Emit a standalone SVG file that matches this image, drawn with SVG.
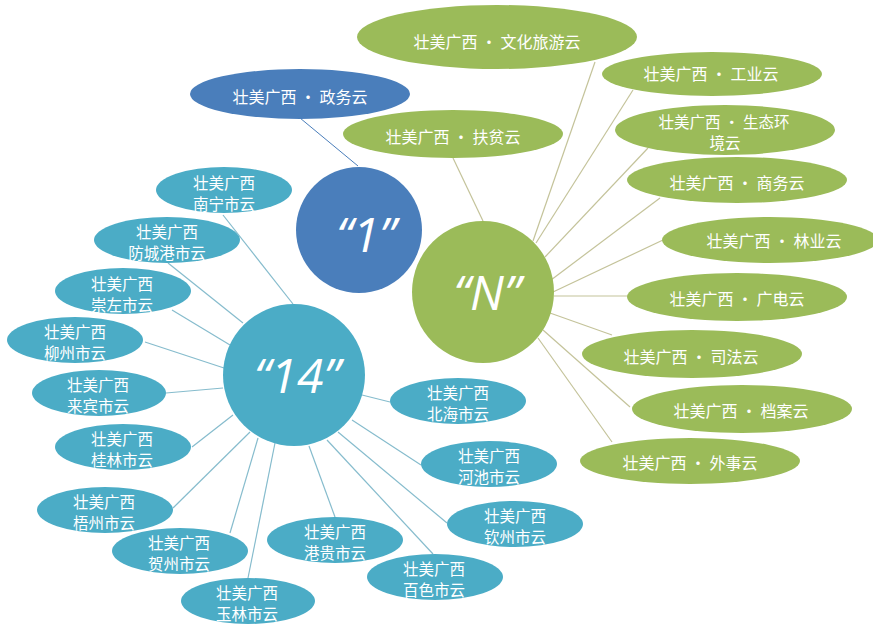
<svg xmlns="http://www.w3.org/2000/svg" width="873" height="626" viewBox="0 0 873 626">
<style>
.g{fill:#9bbb59}
.b{fill:#4a7ebb}
.t{fill:#4bacc6}
.lbl{fill:#fff;font-family:"Noto Sans CJK SC","Noto Sans",sans-serif;font-size:16px;text-anchor:middle;dominant-baseline:central}
.two{font-size:15.5px}
.big{fill:#fff;font-family:"Open Sans","Liberation Sans",sans-serif;font-style:italic;font-size:48px;text-anchor:middle}
.cg line{stroke:#c4c39a;stroke-width:1.2}
.ct line{stroke:#86bccd;stroke-width:1.2}
.cb line{stroke:#4a7ebb;stroke-width:1}
</style>
<rect width="873" height="626" fill="#fff"/>
<g id="connectors">
<g class="cb"><line x1="300" y1="118" x2="358" y2="166"/></g>
<g class="cg">
<line x1="453" y1="158" x2="483" y2="221"/>
<line x1="595" y1="62" x2="533" y2="241"/>
<line x1="633" y1="90" x2="536" y2="243"/>
<line x1="648" y1="148" x2="545" y2="257"/>
<line x1="660" y1="198" x2="551" y2="280"/>
<line x1="663" y1="240" x2="553" y2="292"/>
<line x1="627" y1="296" x2="554" y2="296"/>
<line x1="612" y1="335" x2="550" y2="313"/>
<line x1="630" y1="407" x2="543" y2="330"/>
<line x1="612" y1="442" x2="538" y2="338"/>
</g>
<g class="ct">
<line x1="223" y1="215" x2="293" y2="304"/>
<line x1="168" y1="263" x2="243" y2="323"/>
<line x1="172" y1="310" x2="230" y2="345"/>
<line x1="145" y1="342" x2="224" y2="368"/>
<line x1="166" y1="393" x2="223" y2="388"/>
<line x1="192" y1="447" x2="233" y2="415"/>
<line x1="173" y1="508" x2="250" y2="432"/>
<line x1="230" y1="533" x2="258" y2="438"/>
<line x1="248" y1="578" x2="275" y2="443"/>
<line x1="335" y1="517" x2="309" y2="446"/>
<line x1="433" y1="554" x2="327" y2="440"/>
<line x1="447" y1="523" x2="338" y2="432"/>
<line x1="421" y1="465" x2="352" y2="420"/>
<line x1="390" y1="402" x2="362" y2="395"/>
</g>
</g>
<g id="hub-1"><circle class="b" cx="359" cy="230" r="63"/><text class="big" x="366" y="252">“1”</text></g>
<g id="hub-N"><circle class="g" cx="483" cy="292" r="71"/><text class="big" x="487" y="310">“N”</text></g>
<g id="hub-14"><circle class="t" cx="294" cy="375" r="71"/><text class="big" x="297" y="393">“14”</text></g>

<g id="n-zhengwu"><ellipse class="b" cx="300" cy="94" rx="110" ry="25"/><text class="lbl" x="300" y="96">壮美广西 · 政务云</text></g>
<g id="n-wenlv"><ellipse class="g" cx="497" cy="37" rx="140" ry="32"/><text class="lbl" x="497" y="41">壮美广西 · 文化旅游云</text></g>
<g id="n-fupin"><ellipse class="g" cx="453" cy="134" rx="110" ry="24"/><text class="lbl" x="453" y="136">壮美广西 · 扶贫云</text></g>
<g id="n-gongye"><ellipse class="g" cx="712" cy="74" rx="110" ry="22"/><text class="lbl" x="711" y="73">壮美广西 · 工业云</text></g>
<g id="n-shengtai"><ellipse class="g" cx="725" cy="130" rx="110" ry="25"/><text class="lbl two" x="724" y="121">壮美广西 · 生态环</text><text class="lbl two" x="725" y="142">境云</text></g>
<g id="n-shangwu"><ellipse class="g" cx="737" cy="180" rx="110" ry="23"/><text class="lbl" x="737" y="182">壮美广西 · 商务云</text></g>
<g id="n-linye"><ellipse class="g" cx="770" cy="240" rx="108" ry="23"/><text class="lbl" x="774" y="240">壮美广西 · 林业云</text></g>
<g id="n-guangdian"><ellipse class="g" cx="737" cy="297" rx="110" ry="24"/><text class="lbl" x="737" y="298">壮美广西 · 广电云</text></g>
<g id="n-sifa"><ellipse class="g" cx="692" cy="354" rx="110" ry="24"/><text class="lbl" x="691" y="356">壮美广西 · 司法云</text></g>
<g id="n-dangan"><ellipse class="g" cx="742" cy="409" rx="110" ry="24"/><text class="lbl" x="741" y="410">壮美广西 · 档案云</text></g>
<g id="n-waishi"><ellipse class="g" cx="690" cy="461" rx="110" ry="23"/><text class="lbl" x="690" y="462">壮美广西 · 外事云</text></g>

<g id="n-nanning"><ellipse class="t" cx="224" cy="190" rx="68" ry="23"/><text class="lbl two" x="224" y="182">壮美广西</text><text class="lbl two" x="224" y="203">南宁市云</text></g>
<g id="n-fangchenggang"><ellipse class="t" cx="167" cy="240" rx="73" ry="23"/><text class="lbl two" x="167" y="231">壮美广西</text><text class="lbl two" x="167" y="252">防城港市云</text></g>
<g id="n-chongzuo"><ellipse class="t" cx="123" cy="291" rx="68" ry="23"/><text class="lbl two" x="122" y="283">壮美广西</text><text class="lbl two" x="122" y="304">崇左市云</text></g>
<g id="n-liuzhou"><ellipse class="t" cx="75" cy="340" rx="68" ry="23"/><text class="lbl two" x="75" y="331">壮美广西</text><text class="lbl two" x="75" y="352">柳州市云</text></g>
<g id="n-laibin"><ellipse class="t" cx="99" cy="393" rx="67" ry="23"/><text class="lbl two" x="98" y="384">壮美广西</text><text class="lbl two" x="98" y="405">来宾市云</text></g>
<g id="n-guilin"><ellipse class="t" cx="123" cy="447" rx="68" ry="23"/><text class="lbl two" x="122" y="438">壮美广西</text><text class="lbl two" x="122" y="459">桂林市云</text></g>
<g id="n-wuzhou"><ellipse class="t" cx="105" cy="510" rx="68" ry="23"/><text class="lbl two" x="104" y="501">壮美广西</text><text class="lbl two" x="104" y="522">梧州市云</text></g>
<g id="n-hezhou"><ellipse class="t" cx="180" cy="551" rx="68" ry="23"/><text class="lbl two" x="179" y="542">壮美广西</text><text class="lbl two" x="179" y="563">贺州市云</text></g>
<g id="n-yulin"><ellipse class="t" cx="248" cy="601" rx="67" ry="23"/><text class="lbl two" x="247" y="592">壮美广西</text><text class="lbl two" x="247" y="613">玉林市云</text></g>
<g id="n-ganggui"><ellipse class="t" cx="335" cy="540" rx="68" ry="23"/><text class="lbl two" x="335" y="531">壮美广西</text><text class="lbl two" x="335" y="552">港贵市云</text></g>
<g id="n-baise"><ellipse class="t" cx="435" cy="577" rx="68" ry="23"/><text class="lbl two" x="434" y="568">壮美广西</text><text class="lbl two" x="434" y="589">百色市云</text></g>
<g id="n-beihai"><ellipse class="t" cx="458" cy="401" rx="68" ry="23"/><text class="lbl two" x="458" y="392">壮美广西</text><text class="lbl two" x="458" y="413">北海市云</text></g>
<g id="n-hechi"><ellipse class="t" cx="489" cy="464" rx="68" ry="23"/><text class="lbl two" x="489" y="455">壮美广西</text><text class="lbl two" x="489" y="476">河池市云</text></g>
<g id="n-qinzhou"><ellipse class="t" cx="515" cy="524" rx="68" ry="23"/><text class="lbl two" x="515" y="515">壮美广西</text><text class="lbl two" x="515" y="536">钦州市云</text></g>
</svg>
